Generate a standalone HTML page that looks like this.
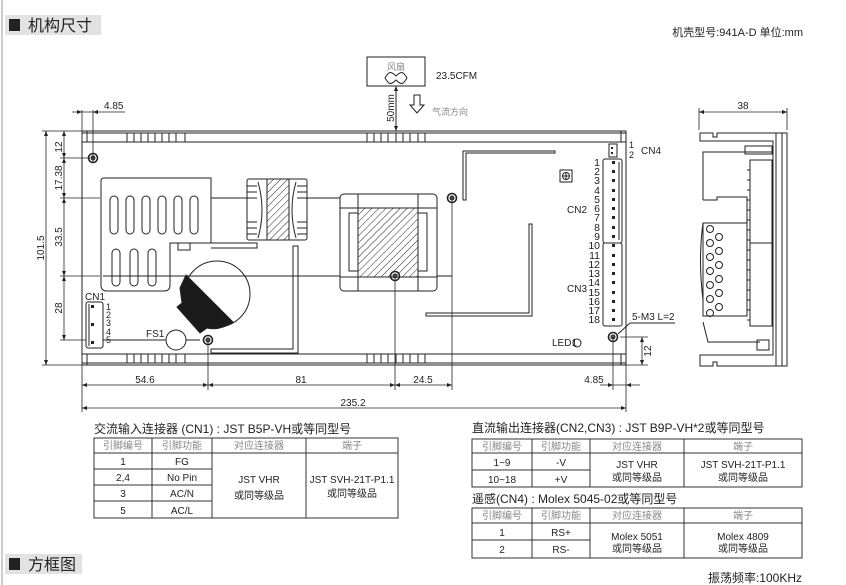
<!DOCTYPE html>
<html><head><meta charset="utf-8"><style>
html,body{margin:0;padding:0;background:#fff;width:846px;height:585px;overflow:hidden}
svg{display:block}
text{font-family:"Liberation Sans","Noto Sans CJK SC",sans-serif;fill:#222}
.c{font-family:"Liberation Sans","Noto Sans CJK SC",sans-serif}
.g{fill:#888}
</style></head><body>
<svg width="846" height="585" viewBox="0 0 846 585" xmlns="http://www.w3.org/2000/svg">
<defs>
<pattern id="h" width="5" height="5" patternUnits="userSpaceOnUse" patternTransform="rotate(45)"><rect width="5" height="5" fill="#fff"/><line x1="0" y1="0" x2="0" y2="5" stroke="#222" stroke-width="1"/></pattern>
</defs>
<line x1="2" y1="0" x2="2" y2="585" stroke="#ccc" stroke-width="2"/>
<!-- headers -->
<rect x="5" y="15" width="96" height="20" fill="#e2e2e2"/>
<rect x="9" y="19" width="11" height="12" fill="#222"/>
<text x="28" y="31" font-size="16">机构尺寸</text>
<text x="803" y="36" font-size="11" text-anchor="end">机壳型号:941A-D  单位:mm</text>
<rect x="5" y="554" width="77" height="20" fill="#e2e2e2"/>
<rect x="9" y="558" width="11" height="12" fill="#222"/>
<text x="28" y="570" font-size="16">方框图</text>
<text x="802" y="582" font-size="12" text-anchor="end">振荡频率:100KHz</text>

<g stroke="#222" fill="none" stroke-width="1">
<!-- fan -->
<rect x="367" y="57" width="58" height="29"/>
<path d="M385 80 C389 73 391 73 396 78 C401 73 403 73 407 80 C403 87 401 87 396 82 C391 87 389 87 385 80Z" transform="translate(0,-2)"/>
<line x1="396" y1="86" x2="396" y2="131"/>
<path d="M414 95 h6 v10 h4 l-7 8 l-7 -8 h4 z"/>
<!-- main board -->
<rect x="82" y="131" width="544" height="234"/>
<line x1="82" y1="133" x2="626" y2="133"/>
<line x1="82" y1="142" x2="626" y2="142"/>
<line x1="82" y1="354" x2="626" y2="354"/>
<line x1="82" y1="363" x2="626" y2="363"/>
<line x1="87" y1="131" x2="87" y2="142"/><line x1="621" y1="131" x2="621" y2="142"/>
<line x1="87" y1="354" x2="87" y2="365"/><line x1="621" y1="354" x2="621" y2="365"/>
<path d="M127 133v9M134 133v9M141 133v9M148 133v9M155 133v9M162 133v9M169 133v9M176 133v9M185 133v9 M367 133v9M374 133v9M381 133v9M388 133v9M396 133v9M403 133v9M410 133v9M418 133v9M425 133v9"/>
<path d="M127 354v9M134 354v9M141 354v9M148 354v9M155 354v9M162 354v9M169 354v9M176 354v9M185 354v9 M367 354v9M374 354v9M381 354v9M388 354v9M396 354v9M403 354v9M410 354v9M418 354v9M425 354v9"/>
<!-- heatsink -->
<path d="M104 178 H211 V243 H170 V285 Q170 291 164 291 H107 Q101 291 101 285 V181 Q101 178 104 178Z"/>
<path d="M211 243 H257 V248 H211 M178 243 V250 H190 V243"/>
<g>
<rect x="110" y="196" width="8" height="38" rx="4"/><rect x="126" y="196" width="8" height="38" rx="4"/><rect x="142" y="196" width="8" height="38" rx="4"/><rect x="158" y="196" width="8" height="38" rx="4"/><rect x="174" y="196" width="8" height="38" rx="4"/><rect x="190" y="196" width="8" height="38" rx="4"/>
<rect x="112" y="249" width="8" height="37" rx="4"/><rect x="130" y="249" width="8" height="37" rx="4"/><rect x="148" y="249" width="8" height="37" rx="4"/>
</g>
<line x1="211" y1="198" x2="247" y2="198"/><line x1="307" y1="198" x2="340" y2="198"/>
<line x1="103" y1="276" x2="340" y2="276"/><line x1="437" y1="276" x2="452" y2="276"/>
<!-- small transformer -->
<rect x="247" y="179" width="60" height="61" rx="2"/>
<rect x="267" y="179" width="22" height="61" fill="url(#h)"/>
<path d="M247 186h10M247 192h10M247 198h10M297 186h10M297 192h10M297 198h10M247 222h10M247 228h10M247 234h10M297 222h10M297 228h10M297 234h10"/>
<path d="M258 182 Q266 210 258 238 M296 182 Q288 210 296 238"/>
<!-- big transformer -->
<rect x="340" y="194" width="97" height="97" rx="4"/>
<path d="M358 194v97M418 194v97M340 208h97M340 277h97"/>
<rect x="349" y="213" width="9" height="58"/><rect x="418" y="213" width="9" height="58"/>
<rect x="358" y="208" width="60" height="69" fill="url(#h)"/>
<!-- bar -->
<path d="M293 246 H298 V353 H211 V349 H293Z"/>
<!-- capacitor -->
<circle cx="217" cy="294" r="33"/>
<path d="M186 275 L233 322 Q220 331 207 328 L200 333 L177 307 L182 303 L180 288Z" fill="#1a1a1a"/>
<!-- CN1 -->
<rect x="86" y="302" width="17" height="46" rx="2"/><line x1="89" y1="304" x2="89" y2="346"/>
<line x1="103" y1="340" x2="166" y2="340"/><line x1="186" y1="340" x2="200" y2="340"/>
<circle cx="176" cy="340" r="10"/>
<!-- right L lines -->
<path d="M463 151 H555 V153 H466 V200 H463Z"/>
<path d="M529 224 H532 V316 H426 V313 H529Z"/>
<rect x="560" y="170" width="12" height="12"/><circle cx="566" cy="176" r="3.5"/><path d="M562.5 176h7M566 172.5v7"/>
<!-- connectors -->
<rect x="609" y="144" width="8" height="13"/>
<rect x="603" y="159" width="19" height="84" rx="2"/><line x1="619" y1="162" x2="619" y2="240"/>
<rect x="603" y="243" width="19" height="83" rx="2"/>
<circle cx="577" cy="343" r="4"/>
<line x1="618" y1="334" x2="630" y2="323"/><line x1="630" y1="323" x2="675" y2="323"/>
<!-- side view -->
<path d="M700 133 H713 V137 H717 V133 H787 V366 H717 V362 H713 V366 H700 V355 H773 V141 H700Z"/>
<line x1="776" y1="133" x2="776" y2="366"/><line x1="782" y1="133" x2="782" y2="366"/>
<path d="M703 200 V152 H773 M703 200 H717 V197 H747 V223 M703 223 H747 V316 H703Z"/>
<path d="M703 223 Q698 260 703 300"/>
<rect x="750" y="160" width="22" height="83"/><rect x="750" y="243" width="22" height="83"/>
<rect x="745" y="146" width="27" height="8"/>
<path d="M703 322 L708 342 H760"/>
<rect x="757" y="340" width="12" height="10"/>
<g>
<circle cx="710" cy="229" r="3.5"/><circle cx="719" cy="237" r="3.5"/><circle cx="710" cy="243" r="3.5"/><circle cx="719" cy="251" r="3.5"/><circle cx="710" cy="257" r="3.5"/><circle cx="719" cy="265" r="3.5"/><circle cx="710" cy="271" r="3.5"/><circle cx="719" cy="279" r="3.5"/><circle cx="710" cy="285" r="3.5"/><circle cx="719" cy="293" r="3.5"/><circle cx="710" cy="299" r="3.5"/><circle cx="719" cy="307" r="3.5"/><circle cx="710" cy="313" r="3.5"/>
</g>
<path d="M747 170h3M747 180h3M747 190h3M747 200h3M747 210h3M747 220h3M747 230h3M747 240h3M747 250h3M747 260h3M747 270h3M747 280h3M747 290h3M747 300h3M747 310h3M747 320h3"/>
</g>

<!-- screw holes -->
<g stroke="#222" fill="none" stroke-width="1.6">
<circle cx="93" cy="158" r="4.5"/><circle cx="208" cy="340" r="4.5"/><circle cx="395" cy="276" r="4.5"/><circle cx="452" cy="198" r="4.5"/><circle cx="613" cy="337" r="4.5"/>
</g>
<g stroke="#222" stroke-width="1" fill="#555">
<circle cx="93" cy="158" r="2"/><circle cx="208" cy="340" r="2"/><circle cx="395" cy="276" r="2"/><circle cx="452" cy="198" r="2"/><circle cx="613" cy="337" r="2"/>
</g>

<!-- dimension lines -->
<g stroke="#222" stroke-width="0.8" fill="none">
<line x1="82" y1="110" x2="82" y2="131"/><line x1="93" y1="110" x2="93" y2="162"/>
<line x1="72" y1="112" x2="125" y2="112"/>
<line x1="46" y1="131" x2="46" y2="365"/>
<line x1="42" y1="131" x2="82" y2="131"/><line x1="42" y1="365" x2="82" y2="365"/>
<line x1="64" y1="131" x2="64" y2="340"/>
<line x1="60" y1="158" x2="90" y2="158"/><line x1="60" y1="198" x2="100" y2="198"/><line x1="60" y1="276" x2="100" y2="276"/><line x1="60" y1="340" x2="86" y2="340"/>
<line x1="82" y1="365" x2="82" y2="412"/><line x1="626" y1="365" x2="626" y2="412"/>
<line x1="208" y1="340" x2="208" y2="390"/><line x1="395" y1="276" x2="395" y2="390"/><line x1="452" y1="198" x2="452" y2="390"/><line x1="613" y1="337" x2="613" y2="390"/>
<line x1="82" y1="385" x2="452" y2="385"/><line x1="600" y1="385" x2="640" y2="385"/>
<line x1="82" y1="408" x2="626" y2="408"/>
<line x1="620" y1="337" x2="648" y2="337"/><line x1="626" y1="365" x2="648" y2="365"/>
<line x1="642" y1="337" x2="642" y2="365"/>
<line x1="699" y1="108" x2="699" y2="130"/><line x1="787" y1="108" x2="787" y2="130"/>
<line x1="699" y1="112" x2="787" y2="112"/>
</g>
<g fill="#222">
<path d="M82 112l-5-2v4zM93 112l5-2v4z"/>
<path d="M46 131l-2 5h4zM46 365l-2-5h4z"/>
<path d="M64 131l-2 5h4zM64 158l-2-5h4zM64 158l-2 5h4zM64 198l-2-5h4zM64 198l-2 5h4zM64 276l-2-5h4zM64 276l-2 5h4zM64 340l-2-5h4z"/>
<path d="M82 385l5-2v4zM208 385l-5-2v4zM208 385l5-2v4zM395 385l-5-2v4zM395 385l5-2v4zM452 385l-5-2v4zM613 385l-5-2v4zM626 385l5-2v4z"/>
<path d="M82 408l5-2v4zM626 408l-5-2v4z"/>
<path d="M642 337l-2 5h4zM642 365l-2-5h4z"/>
<path d="M699 112l5-2v4zM787 112l-5-2v4z"/>
<path d="M396 86l-2 5h4zM396 131l-2-5h4z"/>
</g>
<g font-size="10">
<text x="104" y="109">4.85</text>
<text transform="translate(62,147) rotate(-90)" text-anchor="middle">12</text>
<text transform="translate(62,178) rotate(-90)" text-anchor="middle">17.38</text>
<text transform="translate(62,237) rotate(-90)" text-anchor="middle">33.5</text>
<text transform="translate(62,308) rotate(-90)" text-anchor="middle">28</text>
<text transform="translate(44,248) rotate(-90)" text-anchor="middle">101.5</text>
<text transform="translate(394,108) rotate(-90)" text-anchor="middle">50mm</text>
<text transform="translate(651,351) rotate(-90)" text-anchor="middle">12</text>
<text x="145" y="383" text-anchor="middle">54.6</text>
<text x="301" y="383" text-anchor="middle">81</text>
<text x="423" y="383" text-anchor="middle">24.5</text>
<text x="594" y="383" text-anchor="middle">4.85</text>
<text x="353" y="406" text-anchor="middle">235.2</text>
<text x="743" y="109" text-anchor="middle">38</text>
<text x="436" y="79">23.5CFM</text>
<text x="387" y="70" font-size="9" class="g">风扇</text>
<text x="432" y="115" font-size="9" class="g">气流方向</text>
<text x="85" y="300">CN1</text>
<text x="146" y="337">FS1</text>
<text x="577" y="346" text-anchor="end">LED1</text>
<text x="632" y="320">5-M3 L=2</text>
<text x="641" y="154">CN4</text>
<text x="629" y="148" font-size="9">1</text><text x="629" y="158" font-size="9">2</text>
<text x="567" y="213">CN2</text>
<text x="567" y="292">CN3</text>
</g>
<g font-size="9">
<text x="106" y="310">1</text><text x="106" y="318">2</text><text x="106" y="326">3</text><text x="106" y="335">4</text><text x="106" y="343">5</text>
</g>
<g fill="#222">
<rect x="91" y="305" width="3" height="3"/><rect x="91" y="323" width="3" height="3"/><rect x="91" y="341" width="3" height="3"/>
<rect x="611" y="147" width="2" height="2"/><rect x="611" y="152" width="2" height="2"/>
</g>
<g font-size="10.5" text-anchor="end" id="nums">
<text x="600" y="166">1</text><text x="600" y="175">2</text><text x="600" y="184">3</text><text x="600" y="194">4</text><text x="600" y="203">5</text><text x="600" y="212">6</text><text x="600" y="221">7</text><text x="600" y="231">8</text><text x="600" y="240">9</text><text x="600" y="249">10</text><text x="600" y="259">11</text><text x="600" y="268">12</text><text x="600" y="277">13</text><text x="600" y="286">14</text><text x="600" y="296">15</text><text x="600" y="305">16</text><text x="600" y="314">17</text><text x="600" y="323">18</text>
</g>
<g fill="#222">
<rect x="612" y="161" width="3" height="3"/><rect x="612" y="170" width="3" height="3"/><rect x="612" y="179" width="3" height="3"/><rect x="612" y="189" width="3" height="3"/><rect x="612" y="198" width="3" height="3"/><rect x="612" y="207" width="3" height="3"/><rect x="612" y="216" width="3" height="3"/><rect x="612" y="226" width="3" height="3"/><rect x="612" y="235" width="3" height="3"/><rect x="612" y="244" width="3" height="3"/><rect x="612" y="254" width="3" height="3"/><rect x="612" y="263" width="3" height="3"/><rect x="612" y="272" width="3" height="3"/><rect x="612" y="281" width="3" height="3"/><rect x="612" y="291" width="3" height="3"/><rect x="612" y="300" width="3" height="3"/><rect x="612" y="309" width="3" height="3"/><rect x="612" y="318" width="3" height="3"/>
</g>

<!-- table 1 -->
<text x="94" y="433" font-size="12">交流输入连接器 (CN1) : JST B5P-VH或等同型号</text>
<g stroke="#333" fill="none" stroke-width="1">
<rect x="94" y="438" width="304" height="80"/>
<path d="M94 453H398M94 469H212M94 485H212M94 501H212M152 438V518M212 438V518M306 438V518"/>
</g>
<g font-size="10" text-anchor="middle">
<text x="123" y="449" class="g">引脚编号</text><text x="182" y="449" class="g">引脚功能</text><text x="259" y="449" class="g">对应连接器</text><text x="352" y="449" class="g">端子</text>
<text x="123" y="465">1</text><text x="182" y="465">FG</text>
<text x="123" y="481">2,4</text><text x="182" y="481">No Pin</text>
<text x="123" y="497">3</text><text x="182" y="497">AC/N</text>
<text x="123" y="514">5</text><text x="182" y="514">AC/L</text>
<text x="259" y="483">JST VHR</text><text x="259" y="499">或同等级品</text>
<text x="352" y="483">JST SVH-21T-P1.1</text><text x="352" y="497">或同等级品</text>
</g>
<!-- table 2 -->
<text x="472" y="432" font-size="12">直流输出连接器(CN2,CN3) : JST B9P-VH*2或等同型号</text>
<g stroke="#333" fill="none" stroke-width="1">
<rect x="472" y="439" width="330" height="48"/>
<path d="M472 453H802M472 470H590M532 439V487M590 439V487M684 439V487"/>
</g>
<g font-size="10" text-anchor="middle">
<text x="502" y="450" class="g">引脚编号</text><text x="561" y="450" class="g">引脚功能</text><text x="637" y="450" class="g">对应连接器</text><text x="743" y="450" class="g">端子</text>
<text x="502" y="466">1~9</text><text x="561" y="466">-V</text>
<text x="502" y="483">10~18</text><text x="561" y="483">+V</text>
<text x="637" y="468">JST VHR</text><text x="637" y="481">或同等级品</text>
<text x="743" y="468">JST SVH-21T-P1.1</text><text x="743" y="481">或同等级品</text>
</g>
<!-- table 3 -->
<text x="472" y="503" font-size="12">遥感(CN4) : Molex 5045-02或等同型号</text>
<g stroke="#333" fill="none" stroke-width="1">
<rect x="472" y="508" width="330" height="50"/>
<path d="M472 523H802M472 540H590M532 508V558M590 508V558M684 508V558"/>
</g>
<g font-size="10" text-anchor="middle">
<text x="502" y="519" class="g">引脚编号</text><text x="561" y="519" class="g">引脚功能</text><text x="637" y="519" class="g">对应连接器</text><text x="743" y="519" class="g">端子</text>
<text x="502" y="536">1</text><text x="561" y="536">RS+</text>
<text x="502" y="553">2</text><text x="561" y="553">RS-</text>
<text x="637" y="540">Molex 5051</text><text x="637" y="552">或同等级品</text>
<text x="743" y="540">Molex 4809</text><text x="743" y="552">或同等级品</text>
</g>
</svg>
</body></html>
